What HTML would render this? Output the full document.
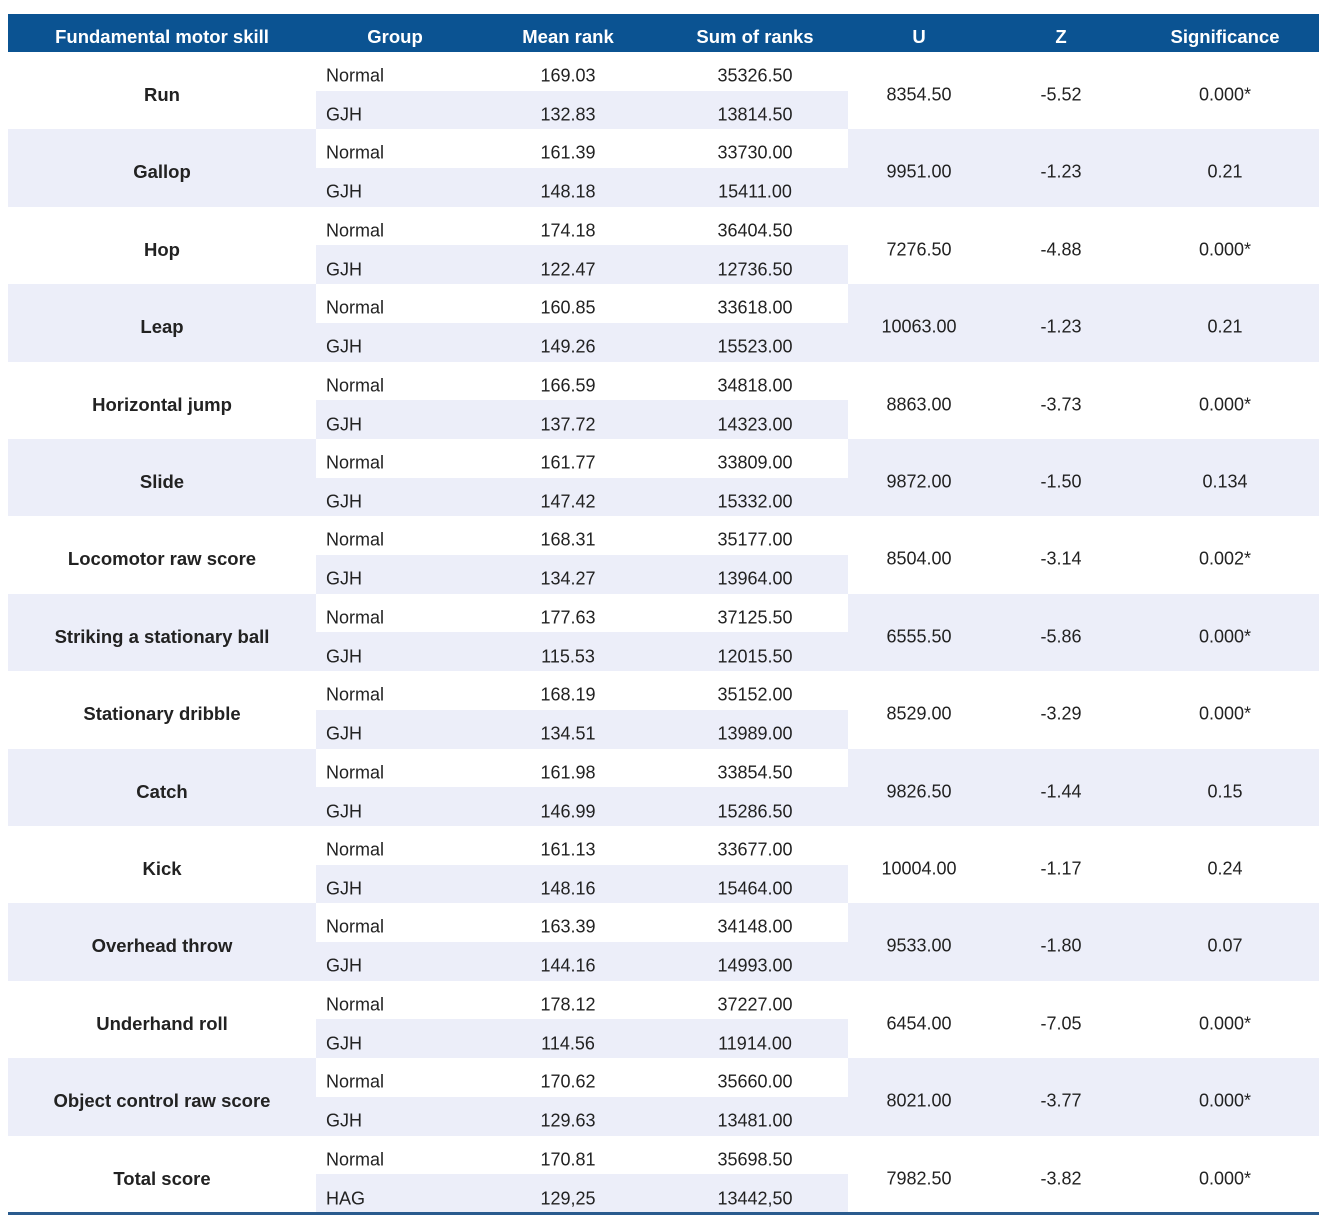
<!DOCTYPE html>
<html><head><meta charset="utf-8"><style>
body{margin:0;width:1330px;height:1228px;background:#fff;font-family:"Liberation Sans",sans-serif;font-size:18px;color:#222;position:relative;overflow:hidden}
.h{position:absolute;left:8px;top:14px;width:1311px;height:38px;background:#0b5392;color:#fff;font-weight:bold;font-size:18.5px}
.h div{position:absolute;top:0;height:38px;line-height:46px;transform:translateX(-50%);white-space:nowrap}
.g{position:absolute;left:8px;width:1311px;height:77.4px}
.g.s{background:#eceef9}
.sub{position:absolute;left:308px;width:532px;height:38.7px}
.sub.w{background:#fff}.sub.d{background:#eceef9}
.t{position:absolute;transform:translate(-50%,-50%);white-space:nowrap;margin-top:1px}
.l{position:absolute;transform:translateY(-50%);white-space:nowrap;margin-top:1px}
.b{font-weight:bold;font-size:18.5px}
.line{position:absolute;left:8px;top:1212px;width:1311px;height:3px;background:#2a5b8e}
</style></head><body>
<div class="h">
<div style="left:154px">Fundamental motor skill</div><div style="left:387px">Group</div><div style="left:560px">Mean rank</div><div style="left:747px">Sum of ranks</div><div style="left:911px">U</div><div style="left:1053px">Z</div><div style="left:1217px">Significance</div>
</div>

<div class="g" style="top:52px"><div class="sub w" style="top:0"></div><div class="sub d" style="top:38.7px"></div>
<div class="t b" style="left:154px;top:42px">Run</div><div class="l" style="left:318px;top:23px">Normal</div><div class="t" style="left:560px;top:23px">169.03</div><div class="t" style="left:747px;top:23px">35326.50</div><div class="l" style="left:318px;top:62px">GJH</div><div class="t" style="left:560px;top:62px">132.83</div><div class="t" style="left:747px;top:62px">13814.50</div><div class="t" style="left:911px;top:42px">8354.50</div><div class="t" style="left:1053px;top:42px">-5.52</div><div class="t" style="left:1217px;top:42px">0.000*</div></div>

<div class="g s" style="top:129.4px"><div class="sub w" style="top:0"></div><div class="sub d" style="top:38.7px"></div>
<div class="t b" style="left:154px;top:42px">Gallop</div><div class="l" style="left:318px;top:23px">Normal</div><div class="t" style="left:560px;top:23px">161.39</div><div class="t" style="left:747px;top:23px">33730.00</div><div class="l" style="left:318px;top:62px">GJH</div><div class="t" style="left:560px;top:62px">148.18</div><div class="t" style="left:747px;top:62px">15411.00</div><div class="t" style="left:911px;top:42px">9951.00</div><div class="t" style="left:1053px;top:42px">-1.23</div><div class="t" style="left:1217px;top:42px">0.21</div></div>

<div class="g" style="top:206.8px"><div class="sub w" style="top:0"></div><div class="sub d" style="top:38.7px"></div>
<div class="t b" style="left:154px;top:42px">Hop</div><div class="l" style="left:318px;top:23px">Normal</div><div class="t" style="left:560px;top:23px">174.18</div><div class="t" style="left:747px;top:23px">36404.50</div><div class="l" style="left:318px;top:62px">GJH</div><div class="t" style="left:560px;top:62px">122.47</div><div class="t" style="left:747px;top:62px">12736.50</div><div class="t" style="left:911px;top:42px">7276.50</div><div class="t" style="left:1053px;top:42px">-4.88</div><div class="t" style="left:1217px;top:42px">0.000*</div></div>

<div class="g s" style="top:284.2px"><div class="sub w" style="top:0"></div><div class="sub d" style="top:38.7px"></div>
<div class="t b" style="left:154px;top:42px">Leap</div><div class="l" style="left:318px;top:23px">Normal</div><div class="t" style="left:560px;top:23px">160.85</div><div class="t" style="left:747px;top:23px">33618.00</div><div class="l" style="left:318px;top:62px">GJH</div><div class="t" style="left:560px;top:62px">149.26</div><div class="t" style="left:747px;top:62px">15523.00</div><div class="t" style="left:911px;top:42px">10063.00</div><div class="t" style="left:1053px;top:42px">-1.23</div><div class="t" style="left:1217px;top:42px">0.21</div></div>

<div class="g" style="top:361.6px"><div class="sub w" style="top:0"></div><div class="sub d" style="top:38.7px"></div>
<div class="t b" style="left:154px;top:42px">Horizontal jump</div><div class="l" style="left:318px;top:23px">Normal</div><div class="t" style="left:560px;top:23px">166.59</div><div class="t" style="left:747px;top:23px">34818.00</div><div class="l" style="left:318px;top:62px">GJH</div><div class="t" style="left:560px;top:62px">137.72</div><div class="t" style="left:747px;top:62px">14323.00</div><div class="t" style="left:911px;top:42px">8863.00</div><div class="t" style="left:1053px;top:42px">-3.73</div><div class="t" style="left:1217px;top:42px">0.000*</div></div>

<div class="g s" style="top:439px"><div class="sub w" style="top:0"></div><div class="sub d" style="top:38.7px"></div>
<div class="t b" style="left:154px;top:42px">Slide</div><div class="l" style="left:318px;top:23px">Normal</div><div class="t" style="left:560px;top:23px">161.77</div><div class="t" style="left:747px;top:23px">33809.00</div><div class="l" style="left:318px;top:62px">GJH</div><div class="t" style="left:560px;top:62px">147.42</div><div class="t" style="left:747px;top:62px">15332.00</div><div class="t" style="left:911px;top:42px">9872.00</div><div class="t" style="left:1053px;top:42px">-1.50</div><div class="t" style="left:1217px;top:42px">0.134</div></div>

<div class="g" style="top:516.4px"><div class="sub w" style="top:0"></div><div class="sub d" style="top:38.7px"></div>
<div class="t b" style="left:154px;top:42px">Locomotor raw score</div><div class="l" style="left:318px;top:23px">Normal</div><div class="t" style="left:560px;top:23px">168.31</div><div class="t" style="left:747px;top:23px">35177.00</div><div class="l" style="left:318px;top:62px">GJH</div><div class="t" style="left:560px;top:62px">134.27</div><div class="t" style="left:747px;top:62px">13964.00</div><div class="t" style="left:911px;top:42px">8504.00</div><div class="t" style="left:1053px;top:42px">-3.14</div><div class="t" style="left:1217px;top:42px">0.002*</div></div>

<div class="g s" style="top:593.8px"><div class="sub w" style="top:0"></div><div class="sub d" style="top:38.7px"></div>
<div class="t b" style="left:154px;top:42px">Striking a stationary ball</div><div class="l" style="left:318px;top:23px">Normal</div><div class="t" style="left:560px;top:23px">177.63</div><div class="t" style="left:747px;top:23px">37125.50</div><div class="l" style="left:318px;top:62px">GJH</div><div class="t" style="left:560px;top:62px">115.53</div><div class="t" style="left:747px;top:62px">12015.50</div><div class="t" style="left:911px;top:42px">6555.50</div><div class="t" style="left:1053px;top:42px">-5.86</div><div class="t" style="left:1217px;top:42px">0.000*</div></div>

<div class="g" style="top:671.2px"><div class="sub w" style="top:0"></div><div class="sub d" style="top:38.7px"></div>
<div class="t b" style="left:154px;top:42px">Stationary dribble</div><div class="l" style="left:318px;top:23px">Normal</div><div class="t" style="left:560px;top:23px">168.19</div><div class="t" style="left:747px;top:23px">35152.00</div><div class="l" style="left:318px;top:62px">GJH</div><div class="t" style="left:560px;top:62px">134.51</div><div class="t" style="left:747px;top:62px">13989.00</div><div class="t" style="left:911px;top:42px">8529.00</div><div class="t" style="left:1053px;top:42px">-3.29</div><div class="t" style="left:1217px;top:42px">0.000*</div></div>

<div class="g s" style="top:748.6px"><div class="sub w" style="top:0"></div><div class="sub d" style="top:38.7px"></div>
<div class="t b" style="left:154px;top:42px">Catch</div><div class="l" style="left:318px;top:23px">Normal</div><div class="t" style="left:560px;top:23px">161.98</div><div class="t" style="left:747px;top:23px">33854.50</div><div class="l" style="left:318px;top:62px">GJH</div><div class="t" style="left:560px;top:62px">146.99</div><div class="t" style="left:747px;top:62px">15286.50</div><div class="t" style="left:911px;top:42px">9826.50</div><div class="t" style="left:1053px;top:42px">-1.44</div><div class="t" style="left:1217px;top:42px">0.15</div></div>

<div class="g" style="top:826px"><div class="sub w" style="top:0"></div><div class="sub d" style="top:38.7px"></div>
<div class="t b" style="left:154px;top:42px">Kick</div><div class="l" style="left:318px;top:23px">Normal</div><div class="t" style="left:560px;top:23px">161.13</div><div class="t" style="left:747px;top:23px">33677.00</div><div class="l" style="left:318px;top:62px">GJH</div><div class="t" style="left:560px;top:62px">148.16</div><div class="t" style="left:747px;top:62px">15464.00</div><div class="t" style="left:911px;top:42px">10004.00</div><div class="t" style="left:1053px;top:42px">-1.17</div><div class="t" style="left:1217px;top:42px">0.24</div></div>

<div class="g s" style="top:903.4px"><div class="sub w" style="top:0"></div><div class="sub d" style="top:38.7px"></div>
<div class="t b" style="left:154px;top:42px">Overhead throw</div><div class="l" style="left:318px;top:23px">Normal</div><div class="t" style="left:560px;top:23px">163.39</div><div class="t" style="left:747px;top:23px">34148.00</div><div class="l" style="left:318px;top:62px">GJH</div><div class="t" style="left:560px;top:62px">144.16</div><div class="t" style="left:747px;top:62px">14993.00</div><div class="t" style="left:911px;top:42px">9533.00</div><div class="t" style="left:1053px;top:42px">-1.80</div><div class="t" style="left:1217px;top:42px">0.07</div></div>

<div class="g" style="top:980.8px"><div class="sub w" style="top:0"></div><div class="sub d" style="top:38.7px"></div>
<div class="t b" style="left:154px;top:42px">Underhand roll</div><div class="l" style="left:318px;top:23px">Normal</div><div class="t" style="left:560px;top:23px">178.12</div><div class="t" style="left:747px;top:23px">37227.00</div><div class="l" style="left:318px;top:62px">GJH</div><div class="t" style="left:560px;top:62px">114.56</div><div class="t" style="left:747px;top:62px">11914.00</div><div class="t" style="left:911px;top:42px">6454.00</div><div class="t" style="left:1053px;top:42px">-7.05</div><div class="t" style="left:1217px;top:42px">0.000*</div></div>

<div class="g s" style="top:1058.2px"><div class="sub w" style="top:0"></div><div class="sub d" style="top:38.7px"></div>
<div class="t b" style="left:154px;top:42px">Object control raw score</div><div class="l" style="left:318px;top:23px">Normal</div><div class="t" style="left:560px;top:23px">170.62</div><div class="t" style="left:747px;top:23px">35660.00</div><div class="l" style="left:318px;top:62px">GJH</div><div class="t" style="left:560px;top:62px">129.63</div><div class="t" style="left:747px;top:62px">13481.00</div><div class="t" style="left:911px;top:42px">8021.00</div><div class="t" style="left:1053px;top:42px">-3.77</div><div class="t" style="left:1217px;top:42px">0.000*</div></div>

<div class="g" style="top:1135.6px"><div class="sub w" style="top:0"></div><div class="sub d" style="top:38.7px"></div>
<div class="t b" style="left:154px;top:42px">Total score</div><div class="l" style="left:318px;top:23px">Normal</div><div class="t" style="left:560px;top:23px">170.81</div><div class="t" style="left:747px;top:23px">35698.50</div><div class="l" style="left:318px;top:62px">HAG</div><div class="t" style="left:560px;top:62px">129,25</div><div class="t" style="left:747px;top:62px">13442,50</div><div class="t" style="left:911px;top:42px">7982.50</div><div class="t" style="left:1053px;top:42px">-3.82</div><div class="t" style="left:1217px;top:42px">0.000*</div></div>

<div class="line"></div>
</body></html>
